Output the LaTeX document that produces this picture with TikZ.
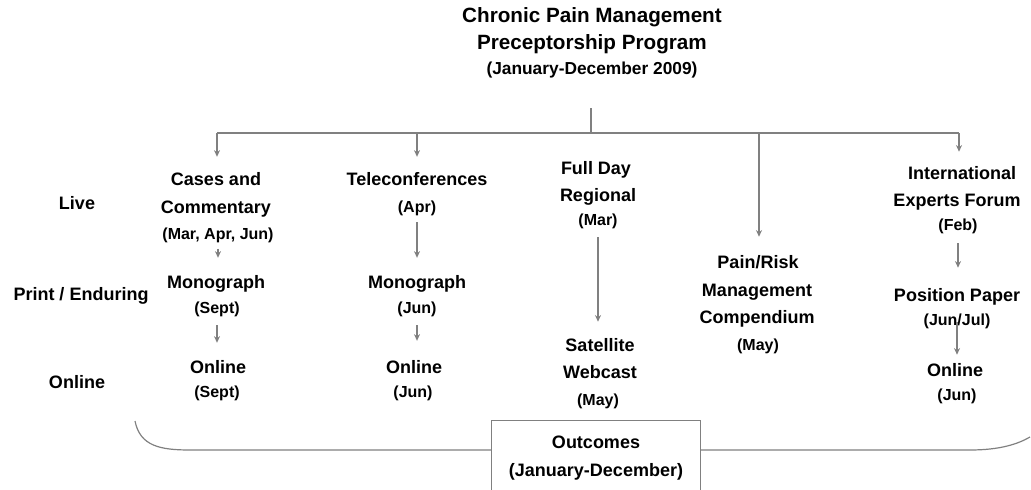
\documentclass[tikz,border=0pt]{standalone}
\usepackage{fontspec}
\setmainfont{Liberation Sans}
\usetikzlibrary{arrows.meta,calc}
\tikzset{
  txt/.style={inner sep=0pt, font=\bfseries\fontsize{13.5}{16}\selectfont, text height=9.7pt, text depth=0pt},
  sml/.style={inner sep=0pt, font=\bfseries\fontsize{12}{14}\selectfont, text height=8.6pt, text depth=0pt},
  ttl/.style={inner sep=0pt, font=\bfseries\fontsize{15.5}{19}\selectfont, text height=11.2pt, text depth=0pt},
  sub/.style={inner sep=0pt, font=\bfseries\fontsize{13}{16}\selectfont, text height=9.4pt, text depth=0pt},
  ln/.style={draw=black!50, line width=0.9pt},
  arr/.style={ln, -{Stealth[length=5pt,width=4.5pt]}},
}
\begin{document}
\begin{tikzpicture}[x=0.75pt,y=-0.75pt]
\useasboundingbox (0,0) rectangle (1031,489);
% title
\node[ttl] (t1) at (592,15) {Chronic Pain Management};
\node[ttl] (t2) at (592,42) {Preceptorship Program};
\node[sub] (t3) at (592,68) {(January-December 2009)};
% row labels
\node[txt] (rlive) at (77,203) {Live};
\node[txt] (rprint) at (81,294) {Print / Enduring};
\node[txt] (ronline) at (77,382) {Online};
% column 1
\node[txt] (c1a) at (216,179) {Cases and};
\node[txt] (c1b) at (216,207) {Commentary};
\node[sml] (c1c) at (218,234) {(Mar, Apr, Jun)};
\node[txt] (m1a) at (216,282) {Monograph};
\node[sml] (m1b) at (217,308) {(Sept)};
\node[txt] (o1a) at (218,367) {Online};
\node[sml] (o1b) at (217,392) {(Sept)};
% column 2
\node[txt] (c2a) at (417,179) {Teleconferences};
\node[sml] (c2b) at (417,207) {(Apr)};
\node[txt] (m2a) at (417,282) {Monograph};
\node[sml] (m2b) at (417,308) {(Jun)};
\node[txt] (o2a) at (414,367) {Online};
\node[sml] (o2b) at (413,392) {(Jun)};
% column 3
\node[txt] (c3a) at (596,168) {Full Day};
\node[txt] (c3b) at (598,195) {Regional};
\node[sml] (c3c) at (598,220) {(Mar)};
\node[txt] (s3a) at (600,345) {Satellite};
\node[txt] (s3b) at (600,372) {Webcast};
\node[sml] (s3c) at (598,400) {(May)};
% column 4
\node[txt] (p4a) at (758,262) {Pain/Risk};
\node[txt] (p4b) at (757,290) {Management};
\node[txt] (p4c) at (757,317) {Compendium};
\node[sml] (p4d) at (758,345) {(May)};
% column 5
\node[txt] (i5a) at (962,173) {International};
\node[txt] (i5b) at (957,200) {Experts Forum};
\node[sml] (i5c) at (958,225) {(Feb)};
\node[txt] (pp5a) at (957,295) {Position Paper};
\node[sml] (pp5b) at (957,320) {(Jun/Jul)};
\node[txt] (o5a) at (955,370) {Online};
\node[sml] (o5b) at (957,395) {(Jun)};
% outcomes
\node[txt, minimum width=156pt, minimum height=52.5pt, align=center, text height=, font=\bfseries\fontsize{13.5}{21}\selectfont] (out) at (596,456) {Outcomes\\(January-December)};
\draw[ln] (out.south west) -- (out.north west) -- (out.north east) -- (out.south east);
% tree connectors
\coordinate (jtop) at (591,108);
\coordinate (j) at (591,133);
\coordinate (bl) at (217,133);
\coordinate (b2) at (417,133);
\coordinate (b4) at (759,133);
\coordinate (br) at (959,133);
\draw[ln] (jtop) -- (j);
\draw[ln] (bl) -- (br);
\draw[arr, shorten >=11.6pt] (bl) -- (bl |- c1a.north);
\draw[arr, shorten >=11.6pt] (b2) -- (b2 |- c2a.north);
\draw[arr, shorten >=13.9pt] (b4) -- (b4 |- p4a.north);
\draw[arr, shorten >=10.9pt] (br) -- (br |- i5a.north);
\draw[arr, shorten <=6.4pt, shorten >=13.1pt] (c1c.south) -- (c1c.south |- m1a.north);
\draw[arr, shorten <=8.4pt, shorten >=13.1pt] (m1b.south) -- (m1b.south |- o1a.north);
\draw[arr, shorten <=6.9pt, shorten >=13.1pt] (c2b.south) -- (m2a.north);
\draw[arr, shorten <=8.4pt, shorten >=14.6pt] (m2b.south) -- (m2b.south |- o2a.north);
\draw[arr, shorten <=8.4pt, shorten >=12.4pt] (c3c.south) -- (c3c.south |- s3a.north);
\draw[arr, shorten <=9.1pt, shorten >=15.4pt] (i5c.south) -- (i5c.south |- pp5a.north);
\draw[arr, shorten <=-3pt, shorten >=6.4pt] (pp5b.south) -- (pp5b.south |- o5a.north);
% outcome brace
\coordinate (lb) at (135,421);
\coordinate (rb) at (1030,437);
\draw[ln] (lb) .. controls (140,446) and (160,450) .. (190,450) -- ([yshift=4.5pt]out.west);
\draw[ln] ([yshift=4.5pt]out.east) -- (970,450) .. controls (1000,450) and (1018,444) .. (rb);
\end{tikzpicture}
\end{document}
